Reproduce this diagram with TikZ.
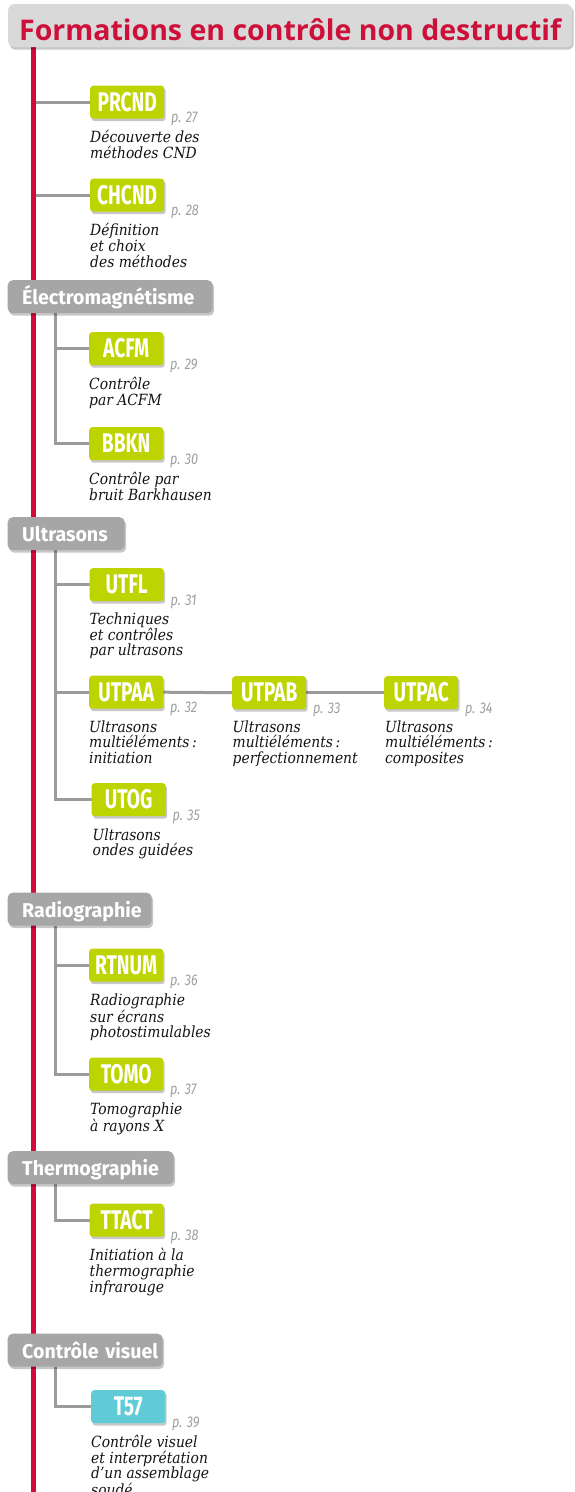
\documentclass[tikz,border=0pt]{standalone}
\usepackage{fontspec}
\usetikzlibrary{shadows,calc}
\newfontfamily\ttlfnt{Open Sans}
\newfontfamily\codefnt[FakeStretch=0.71]{Fira Sans}
\newfontfamily\catfnt[FakeStretch=0.98]{Fira Sans}
\newfontfamily\pnfnt[FakeStretch=0.82]{Fira Sans}
\newfontfamily\descfnt[FakeStretch=0.9]{DejaVu Serif}
\definecolor{redline}{RGB}{210,10,60}
\definecolor{titlefill}{RGB}{217,217,217}
\definecolor{titletext}{RGB}{205,16,58}
\definecolor{catgray}{RGB}{166,166,166}
\definecolor{codegreen}{RGB}{190,212,0}
\definecolor{codecyan}{RGB}{94,203,214}
\definecolor{conngray}{RGB}{155,155,155}
\definecolor{pgray}{RGB}{160,160,160}
\definecolor{desctext}{RGB}{20,20,20}
\pgfdeclarelayer{bg}
\pgfsetlayers{bg,main}
\newcommand\dstrut{\rule{0pt}{12pt}}
\tikzset{
  boxshadow/.style={drop shadow={shadow xshift=1.5pt,shadow yshift=-2.5pt,opacity=0.22,fill=black}},
  codebox/.style={fill=codegreen, rounded corners=3pt, minimum width=74pt, minimum height=33pt,
    inner sep=0pt, text height=18pt, text depth=0pt, text=white, anchor=north west,
    font=\codefnt\bfseries\fontsize{27}{27}\selectfont, boxshadow},
  cyanbox/.style={codebox, fill=codecyan},
  catbox/.style={fill=catgray, rounded corners=5pt, minimum height=33pt, inner ysep=0pt,
    inner xsep=14.5pt, text height=16pt, text depth=0pt, text=white, anchor=north west, align=left,
    font=\catfnt\bfseries\fontsize{20}{20}\selectfont, boxshadow},
  pagelbl/.style={anchor=base west, inner sep=0pt, text=pgray,
    font=\pnfnt\itshape\fontsize{15.5}{15.5}\selectfont},
  desc/.style={anchor=north west, inner sep=0pt, align=left, text=desctext,
    font=\descfnt\itshape\fontsize{15.4}{15.6}\selectfont},
  conn/.style={draw=conngray, line width=3pt},
  redrule/.style={draw=redline, line width=5pt},
}
\begin{document}
\begin{tikzpicture}[x=1pt,y=-1pt]
\useasboundingbox (0,0) rectangle (575,1492);

% title
\node[fill=titlefill, rounded corners=6pt, minimum width=564pt, minimum height=43pt, inner sep=0pt,
  text height=30pt, text depth=0pt, anchor=north west, text=titletext,
  font=\ttlfnt\bfseries\fontsize{28.5}{28.5}\selectfont, boxshadow] (title) at (8,4)
  {Formations en contrôle non destructif};
\coordinate (redtop) at (33.5,47);
\coordinate (redbot) at (33.5,1492);

% top-level codes
\node[codebox] (prcnd) at (90,85.5) {PRCND};
\node[pagelbl] (p27) at ($(prcnd.south east)+(6.5,4)$) {p. 27};
\node[desc] (d27) at ($(prcnd.south west)+(0,11.5)$) {\dstrut Découverte des\\méthodes CND};

\node[codebox] (chcnd) at (90,178.5) {CHCND};
\node[pagelbl] (p28) at ($(chcnd.south east)+(6.5,4)$) {p. 28};
\node[desc] (d28) at ($(chcnd.south west)+(0,11.5)$) {\dstrut Définition\\et choix\\des méthodes};

% Electromagnetisme
\node[catbox, text width=176pt] (em) at (7.5,280) {\mbox{Électromagnétisme}};
\node[codebox] (acfm) at (89,332) {ACFM};
\node[pagelbl] (p29) at ($(acfm.south east)+(6.5,4)$) {p. 29};
\node[desc] (d29) at ($(acfm.south west)+(0,11.5)$) {\dstrut Contrôle\\par ACFM};
\node[codebox] (bbkn) at (89,427) {BBKN};
\node[pagelbl] (p30) at ($(bbkn.south east)+(6.5,4)$) {p. 30};
\node[desc] (d30) at ($(bbkn.south west)+(0,11.5)$) {\dstrut Contrôle par\\bruit Barkhausen};

% Ultrasons
\node[catbox, text width=88pt] (us) at (7.5,517) {\mbox{Ultrasons}};
\node[codebox] (utfl) at (89.5,568) {UTFL};
\node[pagelbl] (p31) at ($(utfl.south east)+(6.5,4)$) {p. 31};
\node[desc] (d31) at ($(utfl.south west)+(0,11)$) {\dstrut Techniques\\et contrôles\\par ultrasons};
\node[codebox] (utpaa) at (89,675.5) {UTPAA};
\node[pagelbl] (p32) at ($(utpaa.south east)+(6.5,4)$) {p. 32};
\node[desc] (d32) at ($(utpaa.south west)+(0,11)$) {\dstrut Ultrasons\\multiéléments\,:\\initiation};
\node[codebox] (utpab) at (232,676) {UTPAB};
\node[pagelbl] (p33) at ($(utpab.south east)+(6.5,4)$) {p. 33};
\node[desc] (d33) at ($(utpab.south west)+(0.5,10.5)$) {\dstrut Ultrasons\\multiéléments\,:\\perfectionnement};
\node[codebox] (utpac) at (384,676) {UTPAC};
\node[pagelbl] (p34) at ($(utpac.south east)+(6.5,4)$) {p. 34};
\node[desc] (d34) at ($(utpac.south west)+(1,10.5)$) {\dstrut Ultrasons\\multiéléments\,:\\composites};
\node[codebox] (utog) at (91.5,783) {UTOG};
\node[pagelbl] (p35) at ($(utog.south east)+(6.5,4)$) {p. 35};
\node[desc] (d35) at ($(utog.south west)+(1,11.5)$) {\dstrut Ultrasons\\ondes guidées};

% Radiographie
\node[catbox, text width=115pt] (rad) at (7.5,892.5) {\mbox{Radiographie}};
\node[codebox] (rtnum) at (89,948.5) {RTNUM};
\node[pagelbl] (p36) at ($(rtnum.south east)+(6.5,4)$) {p. 36};
\node[desc] (d36) at ($(rtnum.south west)+(1,11.5)$) {\dstrut Radiographie\\sur écrans\\photostimulables};
\node[codebox] (tomo) at (89,1057.5) {TOMO};
\node[pagelbl] (p37) at ($(tomo.south east)+(6.5,4)$) {p. 37};
\node[desc] (d37) at ($(tomo.south west)+(1,11.5)$) {\dstrut Tomographie\\à rayons X};

% Thermographie
\node[catbox, text width=137pt] (th) at (7.5,1151) {\mbox{Thermographie}};
\node[codebox] (ttact) at (89.5,1203.5) {TTACT};
\node[pagelbl] (p38) at ($(ttact.south east)+(6.5,4)$) {p. 38};
\node[desc] (d38) at ($(ttact.south west)+(0,11.5)$) {\dstrut Initiation à la\\thermographie\\infrarouge};

% Controle visuel
\node[catbox, text width=126pt] (cv) at (7.5,1333.5) {\mbox{Contrôle visuel}};
\node[cyanbox] (t57) at (91,1390) {T57};
\node[pagelbl] (p39) at ($(t57.south east)+(6.5,4)$) {p. 39};
\node[desc] (d39) at ($(t57.south west)+(0,11.5)$) {\dstrut Contrôle visuel\\et interprétation\\d’un assemblage\\soudé};

\begin{pgfonlayer}{bg}
  \fill[white] (0,0) rectangle (575,1492);
  \coordinate (emB) at ([xshift=47.5pt]em.south west);
  \coordinate (usB) at ([xshift=47.5pt]us.south west);
  \coordinate (radB) at ([xshift=47.5pt]rad.south west);
  \coordinate (thB) at ([xshift=47.5pt]th.south west);
  \coordinate (cvB) at ([xshift=47.5pt]cv.south west);
  \draw[conn] (prcnd.west -| redtop) -- (prcnd.west);
  \draw[conn] (chcnd.west -| redtop) -- (chcnd.west);
  \draw[conn] (emB) |- (acfm.west);
  \draw[conn] (emB) |- (bbkn.west);
  \draw[conn] (usB) |- (utfl.west);
  \draw[conn] (usB) |- (utpaa.west);
  \draw[conn] (usB) |- (utog.west);
  \draw[conn] (utpaa.east) -- (utpab.west);
  \draw[conn] (utpab.east) -- (utpac.west);
  \draw[conn] (radB) |- (rtnum.west);
  \draw[conn] (radB) |- (tomo.west);
  \draw[conn] (thB) |- (ttact.west);
  \draw[conn] (cvB) |- (t57.west);
  \draw[redrule] (redtop) -- (redbot);
\end{pgfonlayer}
\end{tikzpicture}
\end{document}
